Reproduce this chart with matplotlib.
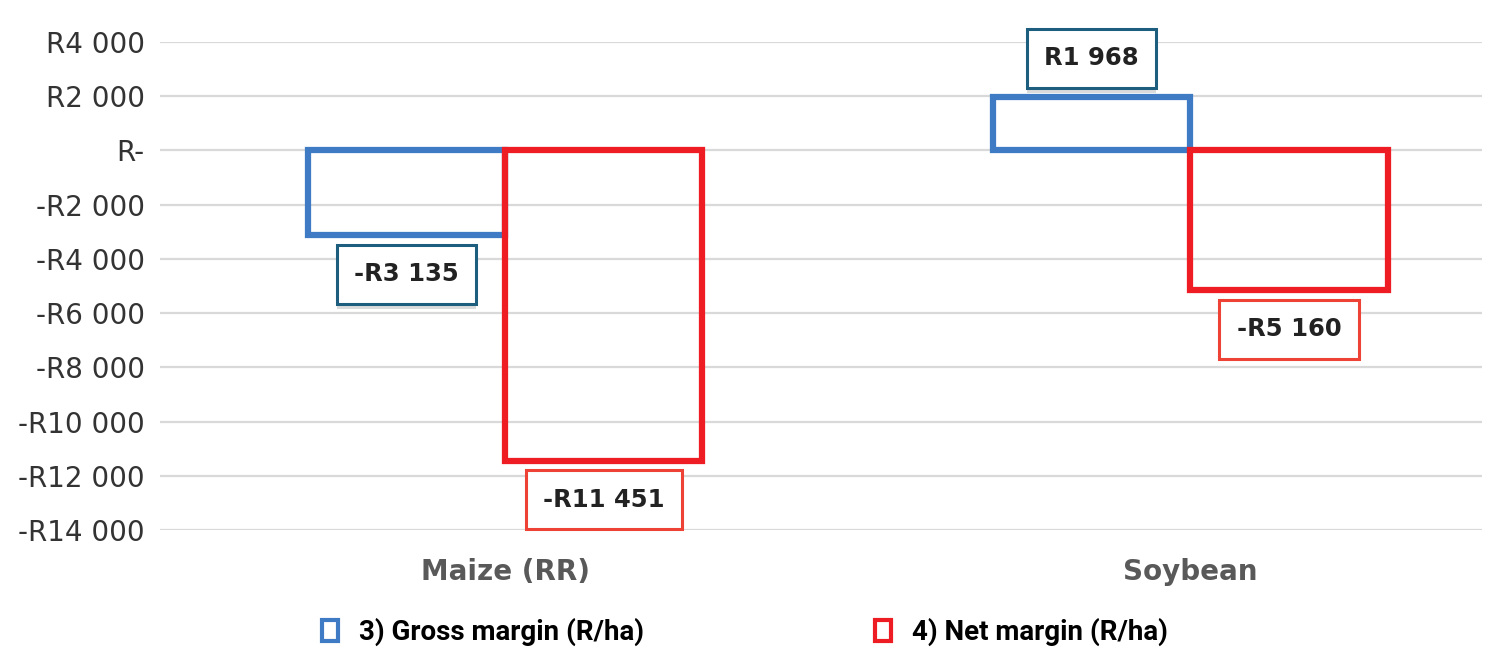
import matplotlib
matplotlib.use("Agg")
import matplotlib.pyplot as plt
import matplotlib.patheffects as pe
from matplotlib.patches import Rectangle
from matplotlib.ticker import FuncFormatter
import numpy as np

categories = ["Maize (RR)", "Soybean"]
gross_margin = [-3135, 1968]
net_margin = [-11451, -5160]
series_names = ["3) Gross margin (R/ha)", "4) Net margin (R/ha)"]
y_ticks = list(range(-14000, 4001, 2000))

blue = "#3F7BC4"
red = "#EE1D24"
blue_box = "#1D5E7E"
red_box = "#EE4236"


def money(v, pos=None):
    if v == 0:
        return "R-"
    s = "{:,.0f}".format(abs(v)).replace(",", " ")
    return ("-R" if v < 0 else "R") + s


fig = plt.figure(figsize=(14.99, 6.61), dpi=100)
ax = fig.add_axes([0.1067, 0.1982, 0.882, 0.7383])

x = np.arange(len(categories))
w = 0.288
ax.bar(x - w / 2, gross_margin, w, facecolor="none", edgecolor=blue, linewidth=4.5, zorder=3)
ax.bar(x + w / 2, net_margin, w, facecolor="none", edgecolor=red, linewidth=4.5, zorder=3)

# value boxes under / over each bar end
for xs, vals, ec, shadow in [(x - w / 2, gross_margin, blue_box, True), (x + w / 2, net_margin, red_box, False)]:
    for xi, v in zip(xs, vals):
        t = ax.annotate(money(v), (xi, v), xytext=(0, 28 if v > 0 else -28), textcoords="offset points",
                        ha="center", va="center", fontsize=17.5, fontweight="bold", color="#222222",
                        bbox=dict(boxstyle="square,pad=0.72", facecolor="white", edgecolor=ec, linewidth=2.2),
                        zorder=5)
        if shadow:
            t.get_bbox_patch().set_path_effects([pe.SimplePatchShadow(offset=(0, -4), shadow_rgbFace="#999999", alpha=0.35),
                                                 pe.Normal()])

ax.set_ylim(-14000, 4000)
ax.set_xlim(-0.504, 1.426)
ax.set_yticks(y_ticks)
ax.yaxis.set_major_formatter(FuncFormatter(money))
ax.set_xticks(x)
ax.set_xticklabels(categories, fontsize=20, fontweight="bold", color="#595959")
ax.tick_params(axis="y", length=0, pad=11, labelsize=20, labelcolor="#333333")
ax.tick_params(axis="x", length=0, pad=20)
ax.grid(axis="y", color="#D9D9D9", linewidth=1.6, zorder=0)
ax.set_axisbelow(True)
for s in ax.spines.values():
    s.set_visible(False)

handles = [Rectangle((0, 0), 1, 1, facecolor="white", edgecolor=blue, linewidth=3),
           Rectangle((0, 0), 1, 1, facecolor="white", edgecolor=red, linewidth=3)]
fig.legend(handles, series_names, loc="center", bbox_to_anchor=(0.497, 0.044), ncol=2, frameon=False,
           handlelength=0.58, handleheight=0.8, handletextpad=0.75, columnspacing=8.3,
           prop={"family": ["Roboto", "DejaVu Sans"], "weight": "bold", "size": 20})

fig.savefig("out.png", dpi=100)
